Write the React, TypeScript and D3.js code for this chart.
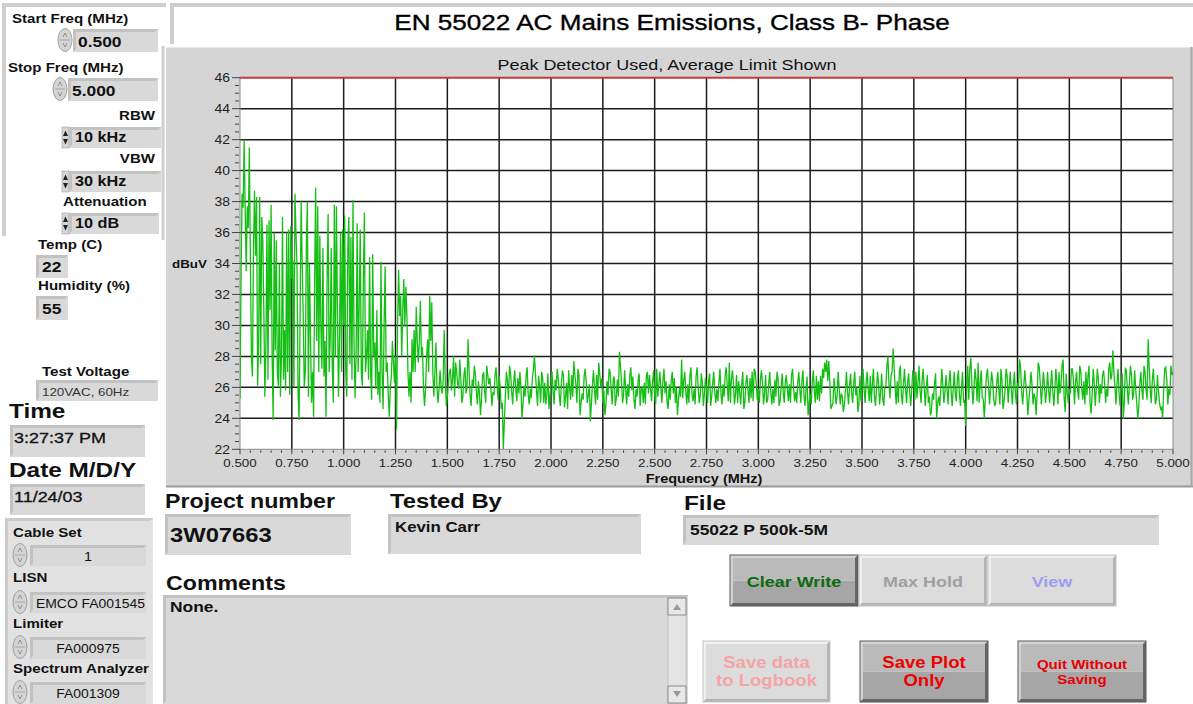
import React from 'react';
import * as d3 from 'd3';

const TITLE = 'EN 55022 AC Mains Emissions, Class B- Phase';
const SUBTITLE = 'Peak Detector Used, Average Limit Shown';
const X_LABEL = 'Frequency (MHz)';
const Y_LABEL = 'dBuV';

const xTicks = [0.5, 0.75, 1.0, 1.25, 1.5, 1.75, 2.0, 2.25, 2.5, 2.75, 3.0, 3.25, 3.5, 3.75, 4.0, 4.25, 4.5, 4.75, 5.0];
const yTicks = [22, 24, 26, 28, 30, 32, 34, 36, 38, 40, 42, 44, 46];
const limitLevel = 46;

// trace 0.500 .. 1.500 MHz, step 0.005 MHz
const fineStart = 0.5;
const fineStep = 0.005;
const fineLevels = [
  25.3, 33, 38.5, 37.6, 42, 37.5, 33.5, 37.7, 36.3, 41.5,
  34.4, 28, 26.7, 35, 38.7, 34.5, 38.3, 26.1, 29, 38.3,
  27.5, 37, 35.5, 30.8, 25.4, 29, 36.5, 26.5, 36.8, 31,
  37.8, 28, 23.9, 36, 28.4, 35.5, 27, 26.1, 34, 25.4,
  28, 37, 26.5, 29.7, 25.8, 36, 27, 36.2, 25.5, 36.4,
  33, 34.2, 26, 38.5, 36, 33.8, 25.6, 23.9, 31, 38,
  34, 30.6, 26, 27, 35, 38, 25.4, 34, 29.3, 25,
  27, 24.1, 33, 38.9, 29, 37.7, 27, 35.8, 30, 27.2,
  35, 26.7, 29, 24.1, 33, 37.2, 27, 29.1, 35, 27.4,
  25, 37.8, 28, 37.7, 31, 25.4, 29.2, 36, 27, 36.2,
  30, 37.1, 27, 25.4, 35, 37, 27.5, 35.7, 26.5, 38.1,
  29, 25.3, 28, 36.6, 27, 31.5, 36.2, 27, 26.1, 33,
  37.3, 27, 28, 29.7, 26.5, 34.4, 27, 25.2, 34.6, 28,
  28.9, 25.9, 31, 25.5, 27, 25, 34.1, 27, 24.6, 30,
  33.8, 27, 27.6, 25.5, 24.1, 26, 26.7, 29, 27.6, 26.3,
  28, 23.3, 30, 33.6, 30.6, 31.9, 28, 31, 33, 30,
  32.5, 30.6, 27, 25.4, 27, 25, 29.1, 27, 29.7, 27,
  31.2, 29, 27.6, 29, 31.6, 28, 28.6, 26, 24.8, 25.9,
  28, 29.1, 27, 31.9, 29, 31.5, 27, 25.4, 27, 28.9,
  26, 25, 25.9, 27.1, 26, 25.6, 26.5, 29.7, 26.5, 24.8,
  25.4,
];

// trace 1.51 .. 5.00 MHz, step 0.01 MHz
const coarseStart = 1.51;
const coarseStep = 0.01;
const coarseLevels = [
  27.0, 25.8, 28.0, 27.6, 26.2, 27.8, 25.0, 26.8, 25.6, 29.1,
  25.5, 26.5, 27.4, 25.7, 26.4, 24.2, 26.75, 25.8, 27.4, 26.2,
  25.9, 25.7, 26.8, 26.1, 26.75, 24.6, 22.0, 25.5, 26.4, 27.4,
  25.8, 26.3, 25.9, 26.6, 27.0, 24.0, 26.1, 26.8, 25.5, 25.9,
  26.6, 28.05, 25.8, 26.75, 25.0, 26.6, 26.3, 25.6, 24.6, 26.2,
  25.7, 26.5, 27.2, 25.5, 26.2, 26.75, 25.4, 24.6, 25.9, 26.8,
  27.7, 26.2, 27.2, 24.2, 25.6, 26.75, 26.3, 25.5, 23.8, 26.2,
  25.9, 26.8, 27.6, 26.0, 25.0, 24.2, 26.4, 27.2, 25.9, 26.5,
  24.8, 26.5, 28.3, 26.4, 25.5, 25.9, 26.2, 26.75, 25.8, 25.25,
  25.9, 26.4, 24.8, 26.0, 26.3, 26.75, 25.6, 25.9, 26.4, 25.5,
  27.2, 26.2, 25.9, 26.5, 25.6, 25.0, 26.2, 26.5, 25.6, 25.0,
  24.2, 26.0, 27.8, 26.4, 25.7, 26.2, 26.75, 25.6, 25.9, 26.75,
  26.0, 25.5, 26.3, 25.6, 25.9, 26.4, 24.8, 26.3, 25.7, 25.9,
  26.4, 25.5, 26.2, 26.75, 26.2, 27.6, 26.5, 26.3, 25.6, 25.0,
  25.7, 26.2, 24.6, 26.3, 25.8, 26.6, 27.0, 27.2, 26.2, 25.9,
  26.5, 26.3, 25.6, 25.0, 26.2, 25.7, 25.9, 26.5, 27.0, 24.8,
  26.0, 25.7, 26.3, 25.9, 26.2, 26.75, 26.0, 25.7, 26.3, 25.9,
  26.4, 25.5, 25.9, 24.2, 25.6, 26.3, 25.8, 26.75, 26.4, 26.75,
  27.2, 27.6, 27.8, 27.7, 24.6, 25.0, 25.7, 25.5, 25.9, 25.6,
  24.4, 25.8, 25.7, 26.1, 25.6, 26.3, 25.5, 24.4, 26.75, 26.0,
  25.9, 26.3, 25.8, 26.75, 26.2, 25.5, 25.9, 26.2, 25.7, 25.25,
  26.0, 27.4, 26.2, 26.75, 28.5, 25.9, 26.4, 27.0, 25.5, 26.2,
  25.9, 26.3, 25.7, 25.9, 26.3, 27.0, 26.3, 25.8, 26.5, 26.0,
  25.9, 25.0, 24.2, 25.6, 26.3, 24.0, 25.4, 25.9, 26.1, 25.7,
  25.9, 26.4, 25.7, 25.9, 25.6, 26.5, 25.5, 26.0, 25.0, 23.5,
  27.4, 27.2, 26.2, 25.9, 26.5, 27.6, 26.3, 25.4, 24.0, 26.75,
  26.2, 25.9, 26.4, 24.8, 26.3, 25.8, 27.2, 24.6, 25.8, 26.75,
  26.0, 25.9, 26.1, 25.6, 26.3, 27.8, 25.7, 26.0, 26.3, 24.2,
  25.9, 26.2, 25.6, 24.2, 27.6, 26.2, 25.9, 26.1, 25.7, 25.9,
  26.1, 25.8, 25.9, 26.3, 27.0, 26.2, 27.8, 24.4, 25.6, 25.9,
  27.2, 26.4, 26.3, 25.8, 27.4, 25.9, 26.4, 27.0, 26.75, 25.0,
  25.5, 26.3, 25.9, 26.5, 26.2, 26.75, 26.3, 25.9, 27.2, 26.5,
  28.4, 26.0, 26.3, 25.6, 25.9, 24.0, 27.2, 25.8, 26.3, 26.75,
  25.6, 25.9, 24.0, 26.3, 25.8, 27.4, 25.9, 29.1, 25.9, 26.4,
  26.1, 25.25, 25.8, 24.6, 24.0, 27.2, 26.5, 25.9, 27.4, 27.0,
];

// trace 1.505 .. 4.995 MHz (between the samples above), step 0.01 MHz
const midStart = 1.505;
const midLevels = [
  26.2, 27.2, 26.5, 25.4, 27.0, 25.9, 26.6, 25.4, 27.3, 26.0,
  27.0, 24.8, 26.0, 26.9, 24.9, 25.6, 25.3, 27.0, 25.0, 26.8,
  26.6, 24.8, 25.5, 27.3, 25.2, 26.0, 25.0, 23.8, 27.0, 25.2,
  26.9, 24.9, 27.1, 25.1, 25.6, 26.0, 24.9, 25.4, 27.3, 24.9,
  25.3, 27.1, 26.9, 24.8, 26.1, 27.0, 25.0, 24.9, 26.9, 25.5,
  27.0, 24.9, 25.8, 26.6, 24.8, 27.1, 24.7, 26.3, 27.1, 25.2,
  25.4, 26.8, 25.0, 26.8, 25.0, 25.2, 27.2, 25.0, 26.2, 25.0,
  27.1, 24.9, 25.2, 26.9, 26.6, 25.8, 24.9, 25.5, 27.0, 24.9,
  26.7, 25.3, 25.4, 27.4, 25.0, 27.1, 24.9, 25.4, 27.3, 26.7,
  24.6, 25.4, 26.9, 25.9, 25.0, 24.9, 27.0, 26.8, 25.1, 27.1,
  24.9, 25.4, 27.0, 25.0, 27.2, 26.4, 24.6, 25.2, 27.0, 26.6,
  26.0, 25.2, 25.4, 25.3, 27.0, 24.9, 25.0, 27.3, 25.1, 24.9,
  27.3, 25.0, 26.9, 24.8, 26.6, 25.0, 26.9, 25.4, 27.0, 25.0,
  25.1, 27.2, 24.9, 25.4, 27.3, 25.1, 25.0, 27.1, 24.9, 26.8,
  26.4, 24.9, 27.0, 25.0, 26.8, 25.0, 25.3, 25.1, 27.0, 25.2,
  25.0, 27.1, 24.9, 26.8, 25.2, 27.0, 24.9, 25.0, 25.4, 26.6,
  25.1, 26.9, 25.0, 26.8, 25.1, 25.0, 27.2, 25.1, 25.0, 27.0,
  25.0, 27.1, 24.8, 26.7, 25.0, 24.9, 27.1, 25.0, 25.2, 25.1,
  25.6, 26.6, 27.0, 26.4, 26.2, 24.8, 26.6, 24.9, 27.0, 24.9,
  25.4, 24.9, 27.0, 24.9, 26.9, 25.0, 27.0, 26.0, 24.9, 25.1,
  27.2, 25.0, 27.0, 25.1, 25.0, 27.2, 24.8, 27.0, 24.9, 26.9,
  24.8, 26.1, 28.0, 25.3, 27.0, 27.3, 24.9, 25.0, 27.4, 24.9,
  27.2, 25.0, 26.9, 24.8, 27.1, 25.2, 25.3, 27.4, 25.0, 27.2,
  24.8, 26.8, 25.4, 24.5, 25.2, 26.9, 25.0, 24.8, 27.2, 25.0,
  26.8, 24.9, 27.1, 24.8, 27.0, 25.1, 27.1, 24.8, 27.0, 25.2,
  25.9, 25.2, 27.9, 24.9, 27.2, 25.1, 25.0, 27.1, 25.2, 25.4,
  27.2, 24.9, 27.0, 25.3, 25.0, 27.0, 24.9, 26.5, 25.1, 27.2,
  25.0, 27.0, 24.9, 27.0, 24.9, 26.0, 27.3, 24.9, 27.1, 25.6,
  25.2, 27.0, 24.9, 25.3, 25.7, 27.3, 24.9, 27.0, 25.0, 27.0,
  25.0, 27.1, 24.8, 27.2, 24.9, 25.6, 27.4, 25.3, 26.9, 25.0,
  25.6, 27.2, 24.9, 27.0, 25.2, 27.1, 25.2, 24.9, 25.5, 27.4,
  24.3, 27.2, 24.8, 27.2, 25.0, 25.6, 27.1, 25.0, 25.4, 27.6,
  26.8, 27.0, 24.9, 27.2, 24.8, 26.9, 25.0, 27.1, 24.9, 27.4,
  25.2, 27.1, 25.0, 24.8, 27.0, 25.2, 27.0, 25.2, 27.4, 25.0,
  27.2, 24.9, 26.8, 25.0, 24.7, 25.8, 27.3, 24.9, 25.5, 26.8,
];

const FONT = "'Liberation Sans', Arial, Helvetica, sans-serif";
const SX = 1.16; // the screen capture is stretched horizontally

type P = { [k: string]: any };

function T({ x, y, size = 13, weight = 'bold', anchor = 'start', color = '#111', children, heavy = 0 }: P) {
  return (
    <text
      transform={`translate(${x},${y}) scale(${SX},1)`}
      x={0}
      y={0}
      fontFamily={FONT}
      fontSize={size}
      fontWeight={weight}
      textAnchor={anchor}
      fill={color}
      stroke={heavy ? color : 'none'}
      strokeWidth={heavy}
    >
      {children}
    </text>
  );
}

function Field({ x, y, w, h, fill = '#d9d9d9' }: P) {
  return (
    <g>
      <rect x={x} y={y} width={w} height={h} fill={fill} />
      <path d={`M${x},${y + h} L${x},${y} L${x + w},${y} L${x + w - 3},${y + 3} L${x + 3},${y + 3} L${x + 3},${y + h - 3} Z`} fill="#c2c2c2" />
    </g>
  );
}

function Spinner({ cx, cy }: P) {
  return (
    <g>
      <ellipse cx={cx} cy={cy} rx={7} ry={11.5} fill="#d4d4d4" stroke="#a0a0a0" strokeWidth={1} />
      <line x1={cx - 5} y1={cy} x2={cx + 5} y2={cy} stroke="#a8a8a8" />
      <path d={`M${cx - 2},${cy - 3} L${cx},${cy - 7} L${cx + 2},${cy - 3}`} fill="none" stroke="#8a8a8a" strokeWidth={0.9} />
      <path d={`M${cx - 2},${cy + 3} L${cx},${cy + 7} L${cx + 2},${cy + 3}`} fill="none" stroke="#8a8a8a" strokeWidth={0.9} />
    </g>
  );
}

function UpDown({ x, y, h }: P) {
  const m = y + h / 2;
  return (
    <g>
      <rect x={x} y={y} width={7} height={h} fill="#d6d6d6" stroke="#a0a0a0" strokeWidth={0.6} />
      <path d={`M${x + 1},${m - 1.5} L${x + 3.5},${m - 7} L${x + 6},${m - 1.5} Z`} fill="#222" />
      <path d={`M${x + 1},${m + 1.5} L${x + 3.5},${m + 7} L${x + 6},${m + 1.5} Z`} fill="#222" />
    </g>
  );
}

function Button({ x, y, w, h, dark, lines, color, size = 15.5, base, gap = 18 }: P) {
  const hi = dark ? '#d4d4d4' : '#f0f0f0';
  const lo = dark ? '#666' : '#b4b4b4';
  return (
    <g>
      {dark ? (
        <g>
          <rect x={x} y={y} width={w} height={h / 2} fill="#bababa" />
          <rect x={x} y={y + h / 2} width={w} height={h / 2} fill="#a6a6a6" />
        </g>
      ) : (
        <rect x={x} y={y} width={w} height={h} fill="#dcdcdc" />
      )}
      <path d={`M${x},${y + h} L${x},${y} L${x + w},${y} L${x + w - 3},${y + 3} L${x + 3},${y + 3} L${x + 3},${y + h - 3} Z`} fill={hi} />
      <path d={`M${x + w},${y} L${x + w},${y + h} L${x},${y + h} L${x + 3},${y + h - 3} L${x + w - 3},${y + h - 3} L${x + w - 3},${y + 3} Z`} fill={lo} />
      <rect x={x} y={y} width={w} height={h} fill="none" stroke={dark ? '#5a5a5a' : '#c4c4c4'} strokeWidth={1} />
      {lines.map((t: string, i: number) => (
        <T key={i} x={x + w / 2} y={base + i * gap} anchor="middle" size={size} color={color}>{t}</T>
      ))}
    </g>
  );
}

export default function App() {
  const left = 240, right = 1173, top = 77.7, bottom = 449.3;
  const x = d3.scaleLinear().domain([0.5, 5.0]).range([left, right]);
  const y = d3.scaleLinear().domain([22, 46]).range([bottom, top]);

  const pts: [number, number][] = [];
  fineLevels.forEach((v, i) => pts.push([fineStart + i * fineStep, v]));
  coarseLevels.forEach((v, i) => {
    pts.push([midStart + i * coarseStep, midLevels[i]]);
    pts.push([coarseStart + i * coarseStep, v]);
  });
  const line = d3.line<[number, number]>().x(d => x(d[0])).y(d => y(d[1]));

  const yMinor = d3.range(22, 46.001, 0.5).filter(v => Math.abs(v / 2 - Math.round(v / 2)) > 0.01);
  const xMinor = d3.range(0.5, 5.0001, 0.05).filter(v => Math.abs(v / 0.25 - Math.round(v / 0.25)) > 0.01);

  return (
    <div style={{ position: 'absolute', left: 0, top: 0, width: 1193, height: 704, background: '#fff' }}>
      <svg width={1193} height={704} viewBox="0 0 1193 704" style={{ display: 'block' }}>
        <rect x={0} y={0} width={1193} height={704} fill="#fff" />

        {/* left panel frame */}
        <path d="M2,236 L2,3 L166,3 L166,7 L6,7 L6,236 Z" fill="#cfcfcf" />
        <line x1={163} y1={46} x2={163} y2={240} stroke="#cfcfcf" strokeWidth={3} />

        {/* title box */}
        <rect x={170} y={3} width={1023} height={40} fill="#fff" />
        <path d="M170,44 L170,3 L1193,3 L1193,7 L174,7 L174,44 Z" fill="#cdcdcd" />
        <T x={672} y={30} anchor="middle" size={22.5} weight="normal" color="#000" heavy={0.35}>{TITLE}</T>

        {/* chart panel */}
        <rect x={166} y={47} width={1027} height={440} fill="#d5d5d5" />
        <line x1={166} y1={47.5} x2={1193} y2={47.5} stroke="#e8e8e8" strokeWidth={1} />
        <line x1={166} y1={486.5} x2={1193} y2={486.5} stroke="#9a9a9a" strokeWidth={2} />
        <line x1={1191.5} y1={47} x2={1191.5} y2={487} stroke="#a8a8a8" strokeWidth={2} />
        <T x={667} y={70} anchor="middle" size={15.5} weight="normal" color="#111">{SUBTITLE}</T>

        {/* plot area */}
        <rect x={left} y={top} width={right - left} height={bottom - top} fill="#fff" />
        <defs>
          <clipPath id="plotClip">
            <rect x={left} y={top} width={right - left} height={bottom - top} />
          </clipPath>
        </defs>
        {yTicks.filter(v => v > 22 && v < 46).map(v => (
          <line key={'hy' + v} x1={left} x2={right} y1={y(v)} y2={y(v)} stroke="#1c1c1c" strokeWidth={1.5} />
        ))}
        {xTicks.filter(v => v > 0.5 && v < 5.0).map(v => (
          <line key={'vx' + v} x1={x(v)} x2={x(v)} y1={top} y2={bottom} stroke="#1c1c1c" strokeWidth={1.5} />
        ))}
        <line x1={left} x2={left} y1={top} y2={bottom} stroke="#8a8a8a" strokeWidth={1} />
        <line x1={right} x2={right} y1={top} y2={bottom} stroke="#8a8a8a" strokeWidth={1} />
        <line x1={left} x2={right} y1={bottom} y2={bottom} stroke="#8a8a8a" strokeWidth={1} />

        <g clipPath="url(#plotClip)">
          <path d={line(pts) || ''} fill="none" stroke="#14bf14" strokeWidth={1.3} strokeLinejoin="miter" />
        </g>
        <line x1={left} x2={right} y1={y(limitLevel)} y2={y(limitLevel)} stroke="#c83a3a" strokeWidth={2} />

        {/* y axis ticks */}
        {yTicks.map(v => (
          <g key={'yt' + v}>
            <line x1={left - 8} x2={left} y1={y(v)} y2={y(v)} stroke="#444" strokeWidth={1} />
            <T x={left - 10} y={y(v) + 4.5} anchor="end" size={12} weight="normal" color="#222">{v}</T>
          </g>
        ))}
        {yMinor.map(v => (
          <line key={'ym' + v} x1={left - 5} x2={left - 1} y1={y(v)} y2={y(v)} stroke="#444" strokeWidth={1} />
        ))}
        {/* x axis ticks */}
        {xTicks.map(v => (
          <g key={'xt' + v}>
            <line x1={x(v)} x2={x(v)} y1={bottom} y2={bottom + 5} stroke="#444" strokeWidth={1} />
            <T x={x(v)} y={467} anchor="middle" size={11.5} weight="normal" color="#222">{v.toFixed(3)}</T>
          </g>
        ))}
        {xMinor.map(v => (
          <line key={'xm' + v} x1={x(v)} x2={x(v)} y1={bottom + 1} y2={bottom + 3.5} stroke="#444" strokeWidth={1} />
        ))}
        <T x={704} y={483} anchor="middle" size={12.5}>{X_LABEL}</T>
        <T x={172} y={268} size={11.5}>{Y_LABEL}</T>

        {/* left controls */}
        <T x={12} y={23}>Start Freq (MHz)</T>
        <Spinner cx={65} cy={40} />
        <Field x={73} y={29} w={85} h={23} />
        <T x={78} y={47} size={15}>0.500</T>

        <T x={8} y={72}>Stop Freq (MHz)</T>
        <Spinner cx={60} cy={89} />
        <Field x={68} y={78} w={90} h={23} />
        <T x={72} y={96} size={15}>5.000</T>

        <T x={155} y={120} anchor="end">RBW</T>
        <UpDown x={62} y={127} h={21} />
        <Field x={69} y={127} w={92} h={21} />
        <T x={75} y={142} size={14}>10 kHz</T>

        <T x={155} y={163} anchor="end">VBW</T>
        <UpDown x={62} y={171} h={21} />
        <Field x={69} y={171} w={92} h={21} />
        <T x={75} y={186} size={14}>30 kHz</T>

        <T x={63} y={206}>Attenuation</T>
        <UpDown x={62} y={213} h={21} />
        <Field x={69} y={213} w={90} h={21} />
        <T x={75} y={228} size={14}>10 dB</T>

        <T x={38} y={249}>Temp (C)</T>
        <Field x={36} y={255} w={32} h={23} />
        <T x={42} y={272} size={15}>22</T>

        <T x={38} y={290}>Humidity (%)</T>
        <Field x={36} y={296} w={32} h={24} />
        <T x={42} y={314} size={15}>55</T>

        <T x={42} y={376}>Test Voltage</T>
        <Field x={36} y={380} w={122} h={21} />
        <T x={42} y={396} size={11.5} weight="normal" color="#333">120VAC, 60Hz</T>

        <T x={9} y={418} size={21}>Time</T>
        <Field x={10} y={425} w={135} h={32} />
        <T x={14} y={443} size={15.5} weight="normal" heavy={0.3}>3:27:37 PM</T>

        <T x={9} y={477} size={21}>Date M/D/Y</T>
        <Field x={10} y={484} w={135} h={31} />
        <T x={14} y={502} size={15.5} weight="normal" heavy={0.3}>11/24/03</T>

        <rect x={5} y={518} width={148} height={186} fill="#e2e2e2" />
        <path d="M5,704 L5,518 L153,518 L150,521 L8,521 L8,704 Z" fill="#cbcbcb" />
        <T x={13} y={537}>Cable Set</T>
        <Spinner cx={20} cy={555} />
        <Field x={30} y={545} w={116} h={21} />
        <T x={88} y={561} size={12.5} weight="normal" anchor="middle">1</T>

        <T x={13} y={582}>LISN</T>
        <Spinner cx={20} cy={602} />
        <Field x={30} y={592} w={116} h={21} />
        <T x={36} y={608} size={12} weight="normal">EMCO FA001545</T>

        <T x={13} y={628}>Limiter</T>
        <Spinner cx={20} cy={647} />
        <Field x={30} y={637} w={116} h={22} />
        <T x={88} y={653} size={12} weight="normal" anchor="middle">FA000975</T>

        <T x={13} y={673}>Spectrum Analyzer</T>
        <Spinner cx={20} cy={692} />
        <Field x={30} y={682} w={116} h={22} />
        <T x={88} y={698} size={12} weight="normal" anchor="middle">FA001309</T>

        {/* bottom info */}
        <T x={165} y={508} size={20}>Project number</T>
        <Field x={165} y={514} w={186} h={41} />
        <T x={170} y={542} size={20.5}>3W07663</T>

        <T x={390} y={508} size={20.5}>Tested By</T>
        <Field x={388} y={514} w={253} h={40} />
        <T x={395} y={532} size={14.5}>Kevin Carr</T>

        <T x={684} y={510} size={21}>File</T>
        <Field x={683} y={515} w={476} h={30} />
        <T x={690} y={535} size={15}>55022 P 500k-5M</T>

        <T x={166} y={590} size={20}>Comments</T>
        <Field x={163} y={595} w={525} h={109} />
        <T x={170} y={612} size={15}>None.</T>
        <rect x={668} y={598} width={18} height={105} fill="#e4e4e4" stroke="#bdbdbd" strokeWidth={0.8} />
        <rect x={668} y={598} width={18} height={17} fill="#e8e8e8" stroke="#777" strokeWidth={0.8} />
        <path d="M673,610 L677,604 L681,610 Z" fill="#999" />
        <rect x={668} y={686} width={18} height={17} fill="#e8e8e8" stroke="#777" strokeWidth={0.8} />
        <path d="M673,691 L677,697 L681,691 Z" fill="#999" />

        {/* buttons */}
        <Button x={730} y={555} w={128} h={51} dark lines={['Clear Write']} color="#0d6b0d" base={587} />
        <Button x={859} y={555} w={128} h={51} lines={['Max Hold']} color="#a0a0a0" base={587} />
        <Button x={988} y={555} w={128} h={51} lines={['View']} color="#9c9cf2" base={587} />
        <Button x={703} y={641} w={127} h={61} lines={['Save data', 'to Logbook']} color="#f4a4a4" size={16} base={668} />
        <Button x={860} y={641} w={128} h={61} dark lines={['Save Plot', 'Only']} color="#ee0000" size={16} base={668} />
        <Button x={1018} y={641} w={128} h={61} dark lines={['Quit Without', 'Saving']} color="#e60000" size={13} base={669} gap={15} />
      </svg>
    </div>
  );
}
